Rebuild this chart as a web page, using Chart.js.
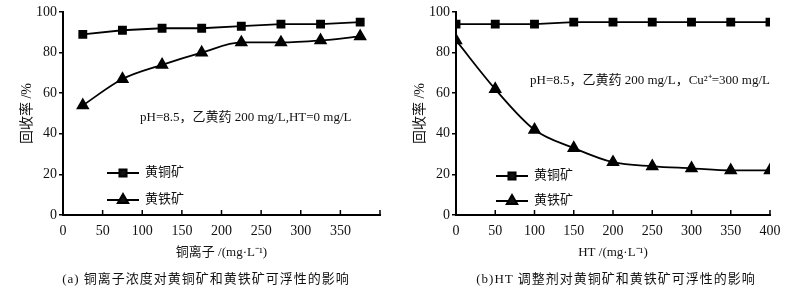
<!DOCTYPE html>
<html><head><meta charset="utf-8">
<script src="https://cdn.jsdelivr.net/npm/chart.js@4/dist/chart.umd.min.js"></script>
<style>
html,body{margin:0;padding:0;background:#fff;}
#wrap{position:relative;width:785px;height:294px;overflow:hidden;background:#fff;}
.cv{position:absolute;top:0;height:294px;}
.cap{position:absolute;top:268px;font:13px "Liberation Serif","Noto Sans CJK SC",serif;color:#111;letter-spacing:1px;white-space:nowrap;transform:translateX(-50%);}
</style></head>
<body>
<div id="wrap">
<div class="cv" style="left:0;width:392px;"><canvas id="ca"></canvas></div>
<div class="cv" style="left:392px;width:393px;"><canvas id="cb"></canvas></div>
<div class="cap" style="left:206px;">(a) 铜离子浓度对黄铜矿和黄铁矿可浮性的影响</div>
<div class="cap" style="left:616px;">(b)HT 调整剂对黄铜矿和黄铁矿可浮性的影响</div>
</div>
<script>
// ---- data ----
const seriesNames = ['黄铜矿', '黄铁矿'];
const cuIon = [25, 75, 125, 175, 225, 275, 325, 375];
const cuChalcopyrite = [89, 91, 92, 92, 93, 94, 94, 95];
const cuPyrite = [54, 67, 74, 80, 85, 85, 86, 88];
const htDose = [0, 50, 100, 150, 200, 250, 300, 350, 400];
const htChalcopyrite = [94, 94, 94, 95, 95, 95, 95, 95, 95];
const htPyrite = [86, 62, 42, 33, 26, 24, 23, 22, 22];
const yTicks = [0, 20, 40, 60, 80, 100];
const xTicks = [0, 50, 100, 150, 200, 250, 300, 350, 400];
const noteA = 'pH=8.5，乙黄药 200 mg/L,HT=0 mg/L';
const noteB = 'pH=8.5，乙黄药 200 mg/L，Cu²⁺=300 mg/L';
const xTitleA = '铜离子 /(mg·L⁻¹)';
const xTitleB = 'HT /(mg·L⁻¹)';
const yTitle = '回收率 /%';

const FONT = '"Liberation Serif","Noto Sans CJK SC",serif';
Chart.defaults.font.family = FONT;
Chart.defaults.color = '#111';

function pts(xs, ys){ return xs.map((x,i)=>({x:x, y:ys[i]})); }

const deco = {
  id:'deco',
  afterDraw(chart, args, o){
    const ctx = chart.ctx, xs = chart.scales.x, ys = chart.scales.y;
    ctx.save();
    // inward x ticks
    ctx.strokeStyle = '#000'; ctx.lineWidth = 1.5;
    xs.ticks.forEach(t=>{
      const px = xs.getPixelForValue(t.value);
      ctx.beginPath(); ctx.moveTo(px, ys.bottom); ctx.lineTo(px, ys.bottom-5); ctx.stroke();
    });
    // annotation
    ctx.fillStyle = '#111';
    ctx.font = '13px ' + FONT;
    ctx.textBaseline = 'middle'; ctx.textAlign = 'left';
    ctx.fillText(o.note, o.noteX, o.noteY);
    // legend
    chart.data.datasets.forEach((ds, i)=>{
      const y = o.legY[i];
      ctx.strokeStyle = '#000'; ctx.lineWidth = 2;
      ctx.beginPath(); ctx.moveTo(o.legX, y); ctx.lineTo(o.legX + 32, y); ctx.stroke();
      Chart.helpers.drawPoint(ctx, {pointStyle: ds.pointStyle, radius: ds.pointRadius, borderWidth: 1}, o.legX + 16, y);
      ctx.fillStyle = '#111';
      ctx.font = '13px ' + FONT;
      ctx.fillText(ds.label, o.legX + 38, y);
    });
    ctx.restore();
  }
};

function makeChart(id, xs, s1, s2, xTitle, cfg){
  const ds = (label, data, style, r, smooth) => ({
    label, data, pointStyle: style, pointRadius: r, pointHoverRadius: r,
    borderColor: '#000', backgroundColor: '#000', pointBackgroundColor: '#000',
    borderWidth: 1.8, tension: smooth ? 0.35 : 0, cubicInterpolationMode: smooth ? 'monotone' : 'default', fill: false
  });
  return new Chart(document.getElementById(id), {
    type: 'line',
    data: { datasets: [
      ds(seriesNames[0], pts(xs, s1), 'rect', 5, false),
      ds(seriesNames[1], pts(xs, s2), 'triangle', 6, true)
    ]},
    options: {
      responsive: true, maintainAspectRatio: false, animation: false,
      layout: { padding: { left: cfg.padL, right: cfg.padR, top: 12, bottom: 34 } },
      plugins: { legend: { display: false }, tooltip: { enabled: false }, deco: cfg.deco },
      scales: {
        x: {
          type: 'linear', min: 0, max: 400,
          afterBuildTicks: s => { s.ticks = xTicks.map(v => ({value: v})); },
          afterFit: s => { s.height = 45; },
          grid: { display: false },
          border: { display: true, color: '#000', width: 2 },
          ticks: { padding: 0, font: { size: 14 }, color: '#111',
            callback: v => (cfg.hideLast && v === 400) ? '' : String(v) },
          title: { display: true, text: xTitle, font: { size: 13 }, color: '#111', padding: { top: 4, bottom: 0 } }
        },
        y: {
          min: 0, max: 100,
          afterBuildTicks: s => { s.ticks = yTicks.map(v => ({value: v})); },
          afterFit: s => { s.width = 47; },
          grid: { display: true, drawOnChartArea: false, drawTicks: true, tickLength: 4, color: '#000', lineWidth: 1.5 },
          border: { display: true, color: '#000', width: 2 },
          ticks: { padding: 2, font: { size: 14 }, color: '#111' },
          title: { display: true, text: yTitle, font: { size: 14 }, color: '#111', padding: 3 }
        }
      }
    },
    plugins: [deco]
  });
}

makeChart('ca', cuIon, cuChalcopyrite, cuPyrite, xTitleA, {
  padL: 16, padR: 12, hideLast: true,
  deco: { note: noteA, noteX: 140, noteY: 118, legX: 107, legY: [173, 200] }
});
makeChart('cb', htDose, htChalcopyrite, htPyrite, xTitleB, {
  padL: 17, padR: 15, hideLast: false,
  deco: { note: noteB, noteX: 138, noteY: 81, legX: 104, legY: [176, 201] }
});
</script>
</body></html>
